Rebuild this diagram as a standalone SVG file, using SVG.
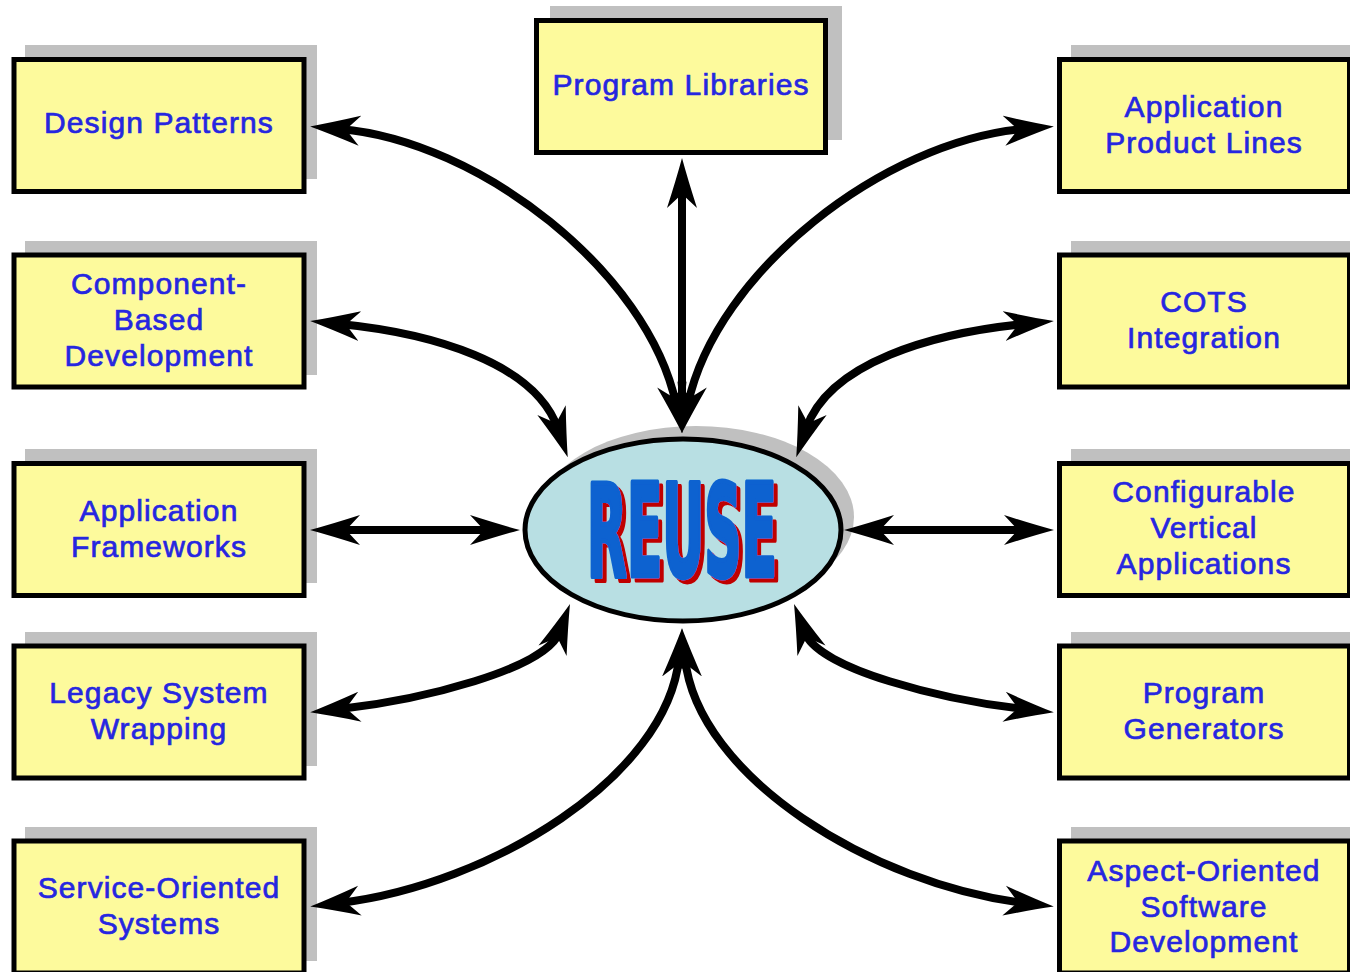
<svg xmlns="http://www.w3.org/2000/svg" width="1350" height="972" viewBox="0 0 1350 972">
<defs>
<style>
.sh{fill:#c0c0c0;stroke:none}
.box{fill:#fdfa9c;stroke:#000;stroke-width:5}
.lbl{font-family:"Liberation Sans",Arial,sans-serif;font-size:30px;fill:#2626e0;stroke:#2626e0;stroke-width:0.7;letter-spacing:1.1px;text-anchor:middle}
.conn{fill:none;stroke:#000;stroke-width:8;marker-start:url(#ah);marker-end:url(#ah)}
.reuse{font-family:"DejaVu Sans Condensed","DejaVu Sans",sans-serif;font-weight:bold;font-size:129px;stroke-width:5;stroke-linejoin:round;fill:#0a62d0;stroke:#0a62d0}
</style>
<filter id="redshadow" x="-10%" y="-10%" width="130%" height="130%">
<feFlood flood-color="#c00000" result="red"/>
<feComposite in="red" in2="SourceAlpha" operator="in" result="redShape"/>
<feOffset in="redShape" dx="4" dy="4" result="off"/>
<feMerge><feMergeNode in="off"/><feMergeNode in="SourceGraphic"/></feMerge>
</filter>
<marker id="ah" markerUnits="userSpaceOnUse" viewBox="0 -16 52 32" markerWidth="52" markerHeight="32" refX="20" refY="0" orient="auto-start-reverse">
<path d="M50,0 Q28,-6 0,-15 L14,0 L0,15 Q28,6 50,0 Z" fill="#000"/>
</marker>
</defs>
<rect width="1350" height="972" fill="#fff"/>

<g id="node-program-libraries">
<rect class="sh" x="550" y="6" width="292" height="134"/>
<rect class="box" x="536.5" y="20.5" width="289" height="132"/>
<text class="lbl" x="681" y="95">Program Libraries</text>
</g>

<g id="node-design-patterns">
<rect class="sh" x="25" y="45" width="292" height="134"/>
<rect class="box" x="14" y="59.5" width="290" height="132"/>
<text class="lbl" x="159" y="133">Design Patterns</text>
</g>
<g id="node-component-based">
<rect class="sh" x="25" y="241" width="292" height="134"/>
<rect class="box" x="14" y="255" width="290" height="132"/>
<text class="lbl" x="159" y="294">Component-</text>
<text class="lbl" x="159" y="330">Based</text>
<text class="lbl" x="159" y="366">Development</text>
</g>
<g id="node-application-frameworks">
<rect class="sh" x="25" y="449" width="292" height="134"/>
<rect class="box" x="14" y="463.5" width="290" height="132"/>
<text class="lbl" x="159" y="521">Application</text>
<text class="lbl" x="159" y="557">Frameworks</text>
</g>
<g id="node-legacy-system">
<rect class="sh" x="25" y="632" width="292" height="134"/>
<rect class="box" x="14" y="646" width="290" height="132"/>
<text class="lbl" x="159" y="703">Legacy System</text>
<text class="lbl" x="159" y="739">Wrapping</text>
</g>
<g id="node-service-oriented">
<rect class="sh" x="25" y="827" width="292" height="134"/>
<rect class="box" x="14" y="841" width="290" height="132"/>
<text class="lbl" x="159" y="898">Service-Oriented</text>
<text class="lbl" x="159" y="934">Systems</text>
</g>

<g id="node-application-product-lines">
<rect class="sh" x="1071" y="45" width="292" height="134"/>
<rect class="box" x="1059.5" y="59.5" width="290" height="132"/>
<text class="lbl" x="1204" y="117">Application</text>
<text class="lbl" x="1204" y="153">Product Lines</text>
</g>
<g id="node-cots-integration">
<rect class="sh" x="1071" y="241" width="292" height="134"/>
<rect class="box" x="1059.5" y="255" width="290" height="132"/>
<text class="lbl" x="1204" y="312">COTS</text>
<text class="lbl" x="1204" y="348">Integration</text>
</g>
<g id="node-configurable-vertical">
<rect class="sh" x="1071" y="449" width="292" height="134"/>
<rect class="box" x="1059.5" y="463.5" width="290" height="132"/>
<text class="lbl" x="1204" y="502">Configurable</text>
<text class="lbl" x="1204" y="538">Vertical</text>
<text class="lbl" x="1204" y="574">Applications</text>
</g>
<g id="node-program-generators">
<rect class="sh" x="1071" y="632" width="292" height="134"/>
<rect class="box" x="1059.5" y="646" width="290" height="132"/>
<text class="lbl" x="1204" y="703">Program</text>
<text class="lbl" x="1204" y="739">Generators</text>
</g>
<g id="node-aspect-oriented">
<rect class="sh" x="1071" y="827" width="292" height="134"/>
<rect class="box" x="1059.5" y="841" width="290" height="132"/>
<text class="lbl" x="1204" y="881">Aspect-Oriented</text>
<text class="lbl" x="1204" y="917">Software</text>
<text class="lbl" x="1204" y="952">Development</text>
</g>

<g id="node-reuse">
<ellipse class="sh" cx="696" cy="517" rx="158" ry="91"/>
<ellipse cx="683" cy="530" rx="158" ry="91" fill="#b8dfe3" stroke="#000" stroke-width="5"/>
<text class="reuse" x="587" y="576" textLength="190" lengthAdjust="spacingAndGlyphs" filter="url(#redshadow)">REUSE</text>
</g>

<g id="connectors">
<path class="conn" d="M682,188 L682,403"/>
<path class="conn" d="M340,129 C480,141 648,272 676,404"/>
<path class="conn" d="M1024,129 C884,141 716,272 688,404"/>
<path class="conn" d="M340,324 C430,333 535,362 558,429"/>
<path class="conn" d="M1024,324 C934,333 829,362 806,429"/>
<path class="conn" d="M340,530 L490,530"/>
<path class="conn" d="M874,530 L1024,530"/>
<path class="conn" d="M340,709 C420,700 545.5,669.6 559.5,632"/>
<path class="conn" d="M1024,709 C944,700 818.5,669.6 804.5,632"/>
<path class="conn" d="M340,903 C490,885 667,777 679,658"/>
<path class="conn" d="M1024,903 C874,885 697,777 685,658"/>
</g>
</svg>
